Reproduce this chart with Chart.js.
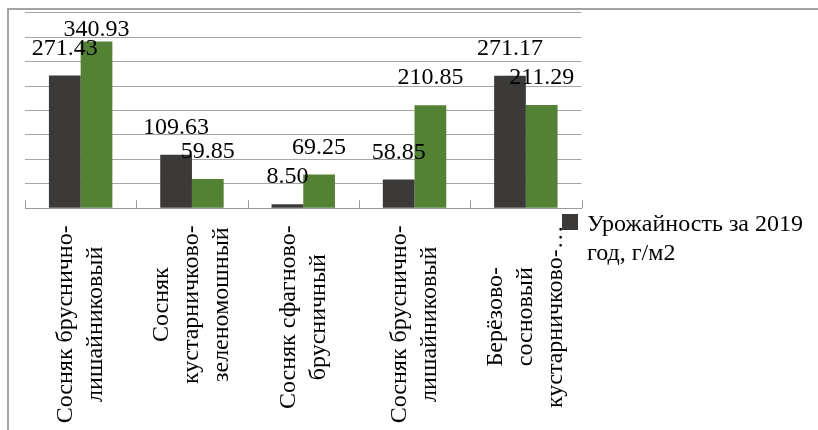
<!DOCTYPE html>
<html>
<head>
<meta charset="utf-8">
<script src="https://cdn.jsdelivr.net/npm/chart.js@4.4.1/dist/chart.umd.min.js"></script>
<style>
  html, body { margin: 0; padding: 0; background: #fff; }
  #wrap { position: relative; width: 818px; height: 430px; overflow: hidden; }
  #frame { position: absolute; left: 7px; top: 8px; width: 830px; height: 440px;
           border-top: 2px solid #a3a3a3; border-left: 2px solid #a3a3a3; }
  canvas { position: absolute; left: 0; top: 0; }
</style>
</head>
<body>
<div id="wrap">
  <div id="frame"></div>
  <canvas id="myChart" width="818" height="430"></canvas>
</div>
<script>
// категории (подписи по строкам)
const categories = [
  ["Сосняк бруснично-", "лишайниковый"],
  ["Сосняк", "кустарничково-", "зеленомошный"],
  ["Сосняк сфагново-", "брусничный"],
  ["Сосняк бруснично-", "лишайниковый"],
  ["Берёзово-", "сосновый", "кустарничково-…"]
];
const yield2019 = [271.43, 109.63, 8.50, 58.85, 271.17];
const yield2020 = [340.93, 59.85, 69.25, 210.85, 211.29];
const seriesNames = ["Урожайность за 2019 год, г/м2", "Урожайность за 2020 год, г/м2"];
const legendLines = ["Урожайность за 2019", "год, г/м2"];
const yMax = 400;
const yStep = 50;

const serif = "'Liberation Serif', 'Times New Roman', serif";

// подписи значений над столбцами
const valueLabels = {
  id: "valueLabels",
  afterDatasetsDraw(chart) {
    const ctx = chart.ctx;
    ctx.save();
    ctx.font = "24px " + serif;
    ctx.fillStyle = "#000";
    ctx.textAlign = "center";
    ctx.textBaseline = "middle";
    chart.data.datasets.forEach((ds, di) => {
      chart.getDatasetMeta(di).data.forEach((bar, i) => {
        let y = bar.y - 27;
        if (y < chart.chartArea.top + 17) y = chart.chartArea.top + 17;
        ctx.fillText(ds.data[i].toFixed(2), bar.x, y);
      });
    });
    ctx.restore();
  }
};

// повернутые подписи категорий, засечки и легенда
const axisExtras = {
  id: "axisExtras",
  afterDraw(chart) {
    const ctx = chart.ctx;
    const xs = chart.scales.x;
    const area = chart.chartArea;
    ctx.save();

    // засечки между категориями (внутрь)
    ctx.strokeStyle = "#9a9a9a";
    ctx.lineWidth = 1;
    for (let i = 0; i <= categories.length; i++) {
      const x = Math.round(xs.getPixelForValue(i - 0.5)) + 0.5;
      ctx.beginPath();
      ctx.moveTo(x, area.bottom - 8);
      ctx.lineTo(x, area.bottom);
      ctx.stroke();
    }

    // подписи
    ctx.font = "24px " + serif;
    ctx.fillStyle = "#000";
    ctx.textAlign = "center";
    ctx.textBaseline = "middle";
    const lineH = 30;
    const top = area.bottom + 17;
    categories.forEach((lines, i) => {
      const maxW = Math.max(...lines.map((l) => ctx.measureText(l).width));
      const x = xs.getPixelForValue(i);
      ctx.save();
      ctx.translate(x, top + maxW / 2);
      ctx.rotate(-Math.PI / 2);
      lines.forEach((l, k) => {
        ctx.fillText(l, 0, (k - (lines.length - 1) / 2) * lineH);
      });
      ctx.restore();
    });

    // легенда (видна только первая серия)
    const ds = chart.data.datasets[0];
    ctx.fillStyle = ds.backgroundColor;
    ctx.fillRect(562, 214, 16, 16);
    ctx.fillStyle = "#000";
    ctx.textAlign = "left";
    ctx.textBaseline = "alphabetic";
    legendLines.forEach((l, k) => {
      ctx.fillText(l, 587, 231 + k * 28.5);
    });
    ctx.restore();
  }
};

const ctx = document.getElementById("myChart").getContext("2d");
new Chart(ctx, {
  type: "bar",
  data: {
    labels: categories,
    datasets: [
      { label: seriesNames[0], data: yield2019, backgroundColor: "#3b3a38" },
      { label: seriesNames[1], data: yield2020, backgroundColor: "#548235" }
    ]
  },
  options: {
    responsive: false,
    animation: false,
    devicePixelRatio: 1,
    layout: { padding: { left: 25, right: 236.5, top: 12.7, bottom: 221.7 } },
    datasets: { bar: { categoryPercentage: 0.57, barPercentage: 1, borderWidth: 0 } },
    scales: {
      x: {
        grid: { display: false, drawTicks: false },
        ticks: { display: false },
        border: { display: true, color: "#9a9a9a", width: 1 }
      },
      y: {
        min: 0,
        max: yMax,
        ticks: { display: false, stepSize: yStep },
        grid: { color: "#a6a6a6", drawTicks: false },
        border: { display: false }
      }
    },
    plugins: {
      legend: { display: false },
      tooltip: { enabled: false }
    }
  },
  plugins: [valueLabels, axisExtras]
});
</script>
</body>
</html>
